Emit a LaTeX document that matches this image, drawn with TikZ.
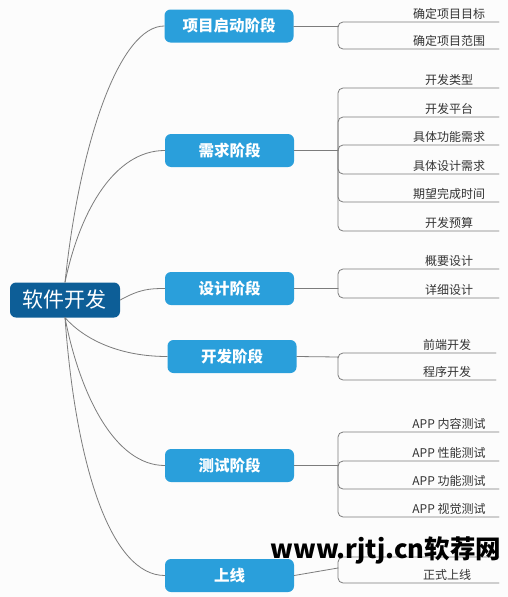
\documentclass[tikz,border=0pt]{standalone}
\usepackage{fontspec}
\setmainfont{Noto Sans CJK SC}
\usetikzlibrary{positioning}
\definecolor{mapRoot}{HTML}{0D5E97}
\definecolor{mapStage}{HTML}{2A9FDB}
\definecolor{mapLine}{HTML}{7C7C7C}
\definecolor{mapText}{HTML}{333333}
\definecolor{mapPaper}{HTML}{FCFCFC}
\begin{document}
\begin{tikzpicture}[x=1pt,y=-1pt,line cap=round,line join=round]
\path[fill=mapPaper] (0,0) rectangle (508,597);
\tikzset{root/.style={fill=mapRoot,text=white,rounded corners=6pt,minimum width=110pt,minimum height=35pt,inner sep=0pt,font=\fontsize{21}{24}\selectfont},
  stage/.style={fill=mapStage,text=white,rounded corners=6pt,minimum width=129pt,minimum height=33pt,inner sep=0pt,font=\bfseries\fontsize{15.5}{18}\selectfont},
  leaf/.style={text=mapText,inner sep=0pt,font=\fontsize{12}{14}\selectfont},
  branch/.style={draw=mapLine,line width=0.8pt},
  twig/.style={draw=mapLine,line width=0.8pt,rounded corners=5pt}}
% root and stages
\node[root] (soft) at (65,300) {软件开发};
\node[stage] (start) at (229,26) {项目启动阶段};
\node[stage] (need) at (229.5,150.5) {需求阶段};
\node[stage] (design) at (229.5,288.5) {设计阶段};
\node[stage] (dev) at (232,356.5) {开发阶段};
\node[stage] (test) at (229.5,465.5) {测试阶段};
\node[stage] (online) at (229.5,575.5) {上线};
% root to stages
\draw[branch] (soft.north) .. controls (80,140) and (120,26) .. (start.west);
\draw[branch] (soft.north) .. controls (80,210) and (115,150.5) .. (need.west);
\draw[branch] (soft.east) .. controls (140,289) and (150,288.5) .. (design.west);
\draw[branch] (soft.south) .. controls (85,340) and (120,356.5) .. (dev.west);
\draw[branch] (soft.south) .. controls (80,395) and (115,465.5) .. (test.west);
\draw[branch] (soft.south) .. controls (76,470) and (112,575.5) .. (online.west);
% stage junctions
\coordinate (ja) at (338,26); \coordinate (jb) at (338,150.5); \coordinate (jc) at (338,288.5);
\coordinate (jd) at (338,357); \coordinate (je) at (338,465.5); \coordinate (jf) at (338,568);
\draw[branch] (start.east) -- (ja); \draw[branch] (need.east) -- (jb); \draw[branch] (design.east) -- (jc);
\draw[branch] (dev.east) -- (jd); \draw[branch] (test.east) -- (je); \draw[branch] (online.east) -- (jf);
% leaves
\foreach \t/\y [count=\i] in {确定项目目标/22,确定项目范围/49}
  {\node[leaf] (a\i) at (449,\y-8.5) {\t}; \coordinate (a\i e) at (499,\y); \draw[twig] (ja) |- (a\i e);}
\foreach \t/\y [count=\i] in {开发类型/88,开发平台/117,具体功能需求/145,具体设计需求/174,期望完成时间/202,开发预算/231}
  {\node[leaf] (b\i) at (449,\y-8.5) {\t}; \coordinate (b\i e) at (499,\y); \draw[twig] (jb) |- (b\i e);}
\foreach \t/\y [count=\i] in {概要设计/269,详细设计/298}
  {\node[leaf] (c\i) at (449,\y-8.5) {\t}; \coordinate (c\i e) at (499,\y); \draw[twig] (jc) |- (c\i e);}
\foreach \t/\y [count=\i] in {前端开发/353,程序开发/380}
  {\node[leaf] (d\i) at (447,\y-8.5) {\t}; \coordinate (d\i e) at (496,\y); \draw[twig] (jd) |- (d\i e);}
\foreach \t/\y [count=\i] in {APP 内容测试/432,APP 性能测试/461,APP 功能测试/489,APP 视觉测试/517}
  {\node[leaf] (e\i) at (449,\y-8.5) {\t}; \coordinate (e\i e) at (499,\y); \draw[twig] (je) |- (e\i e);}
\coordinate (f1e) at (499,557); \draw[twig] (jf) |- (f1e);
\node[leaf] (f2) at (447,575) {正式上线}; \coordinate (f2e) at (499,583); \draw[twig] (jf) |- (f2e);
% watermark
\node[text=black,inner sep=0pt,font=\bfseries\fontsize{25.5}{30}\selectfont] (mark) at (386,550) {www.rjtj.cn软荐网};
\end{tikzpicture}
\end{document}
